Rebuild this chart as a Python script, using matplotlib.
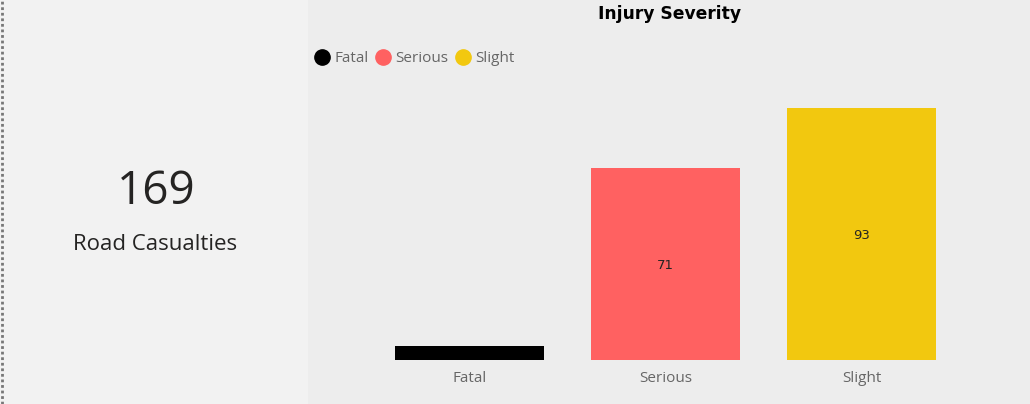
import matplotlib.pyplot as plt
from matplotlib.patches import Rectangle
from matplotlib.lines import Line2D

categories = ['Fatal', 'Serious', 'Slight']
casualties = [5, 71, 93]
colors = ['#000000', '#ff6161', '#f2c80f']
label_colors = ['#000000', '#252423', '#252423']
total = sum(casualties)


def main():
    fig = plt.figure(figsize=(10.3, 4.04), dpi=100)
    fig.patch.set_facecolor('#ededed')

    # left card panel
    fig.patches.append(Rectangle((0, 0), 308 / 1030, 1, transform=fig.transFigure,
                                 facecolor='#f2f2f2', edgecolor='none', zorder=0))
    fig.lines.append(Line2D([1.5 / 1030, 1.5 / 1030], [0, 1], transform=fig.transFigure,
                            color='#777777', lw=2, ls=(0, (1, 1))))
    fig.text(156 / 1030, 1 - 192 / 404, str(total), ha='center', va='center',
             fontsize=33, color='#252423', family='Open Sans')
    fig.text(155 / 1030, 1 - 245 / 404, 'Road Casualties', ha='center', va='center',
             fontsize=16, color='#252423', family='Open Sans')

    # bar chart
    ax = fig.add_axes([371.5 / 1030, 44 / 404, 588.5 / 1030, 271 / 404])
    ax.set_facecolor('none')
    x = list(range(len(categories)))
    ax.bar(x, casualties, width=0.76, color=colors)
    ax.set_xlim(-0.5, 2.5)
    ax.set_ylim(0, 93 * 271 / 252)
    for xi, v, c in zip(x, casualties, label_colors):
        ax.text(xi, v / 2, str(v), ha='center', va='center_baseline', fontsize=9.5,
                color=c, family='DejaVu Sans')
    ax.set_xticks(x)
    ax.set_xticklabels(categories, fontsize=11, color='#666666', family='Open Sans')
    ax.tick_params(axis='x', length=0, pad=8)
    ax.set_yticks([])
    for s in ax.spines.values():
        s.set_visible(False)

    fig.text(670 / 1030, 1 - 14 / 404, 'Injury Severity', ha='center', va='center',
             fontsize=12.3, fontweight='bold', color='#000000', family='DejaVu Sans')

    # legend
    handles = [Line2D([], [], marker='o', ls='none', markersize=11, color=c) for c in colors]
    leg = fig.legend(handles, categories, loc='center left',
                     bbox_to_anchor=(301 / 1030, 1 - 59 / 404), ncol=3, frameon=False,
                     handletextpad=0.3, columnspacing=0.45, handlelength=1.0,
                     prop={'family': 'Open Sans', 'size': 11})
    for t in leg.get_texts():
        t.set_color('#666666')

    fig.savefig('out.png', dpi=100, facecolor=fig.get_facecolor())


if __name__ == "__main__":
    main()
